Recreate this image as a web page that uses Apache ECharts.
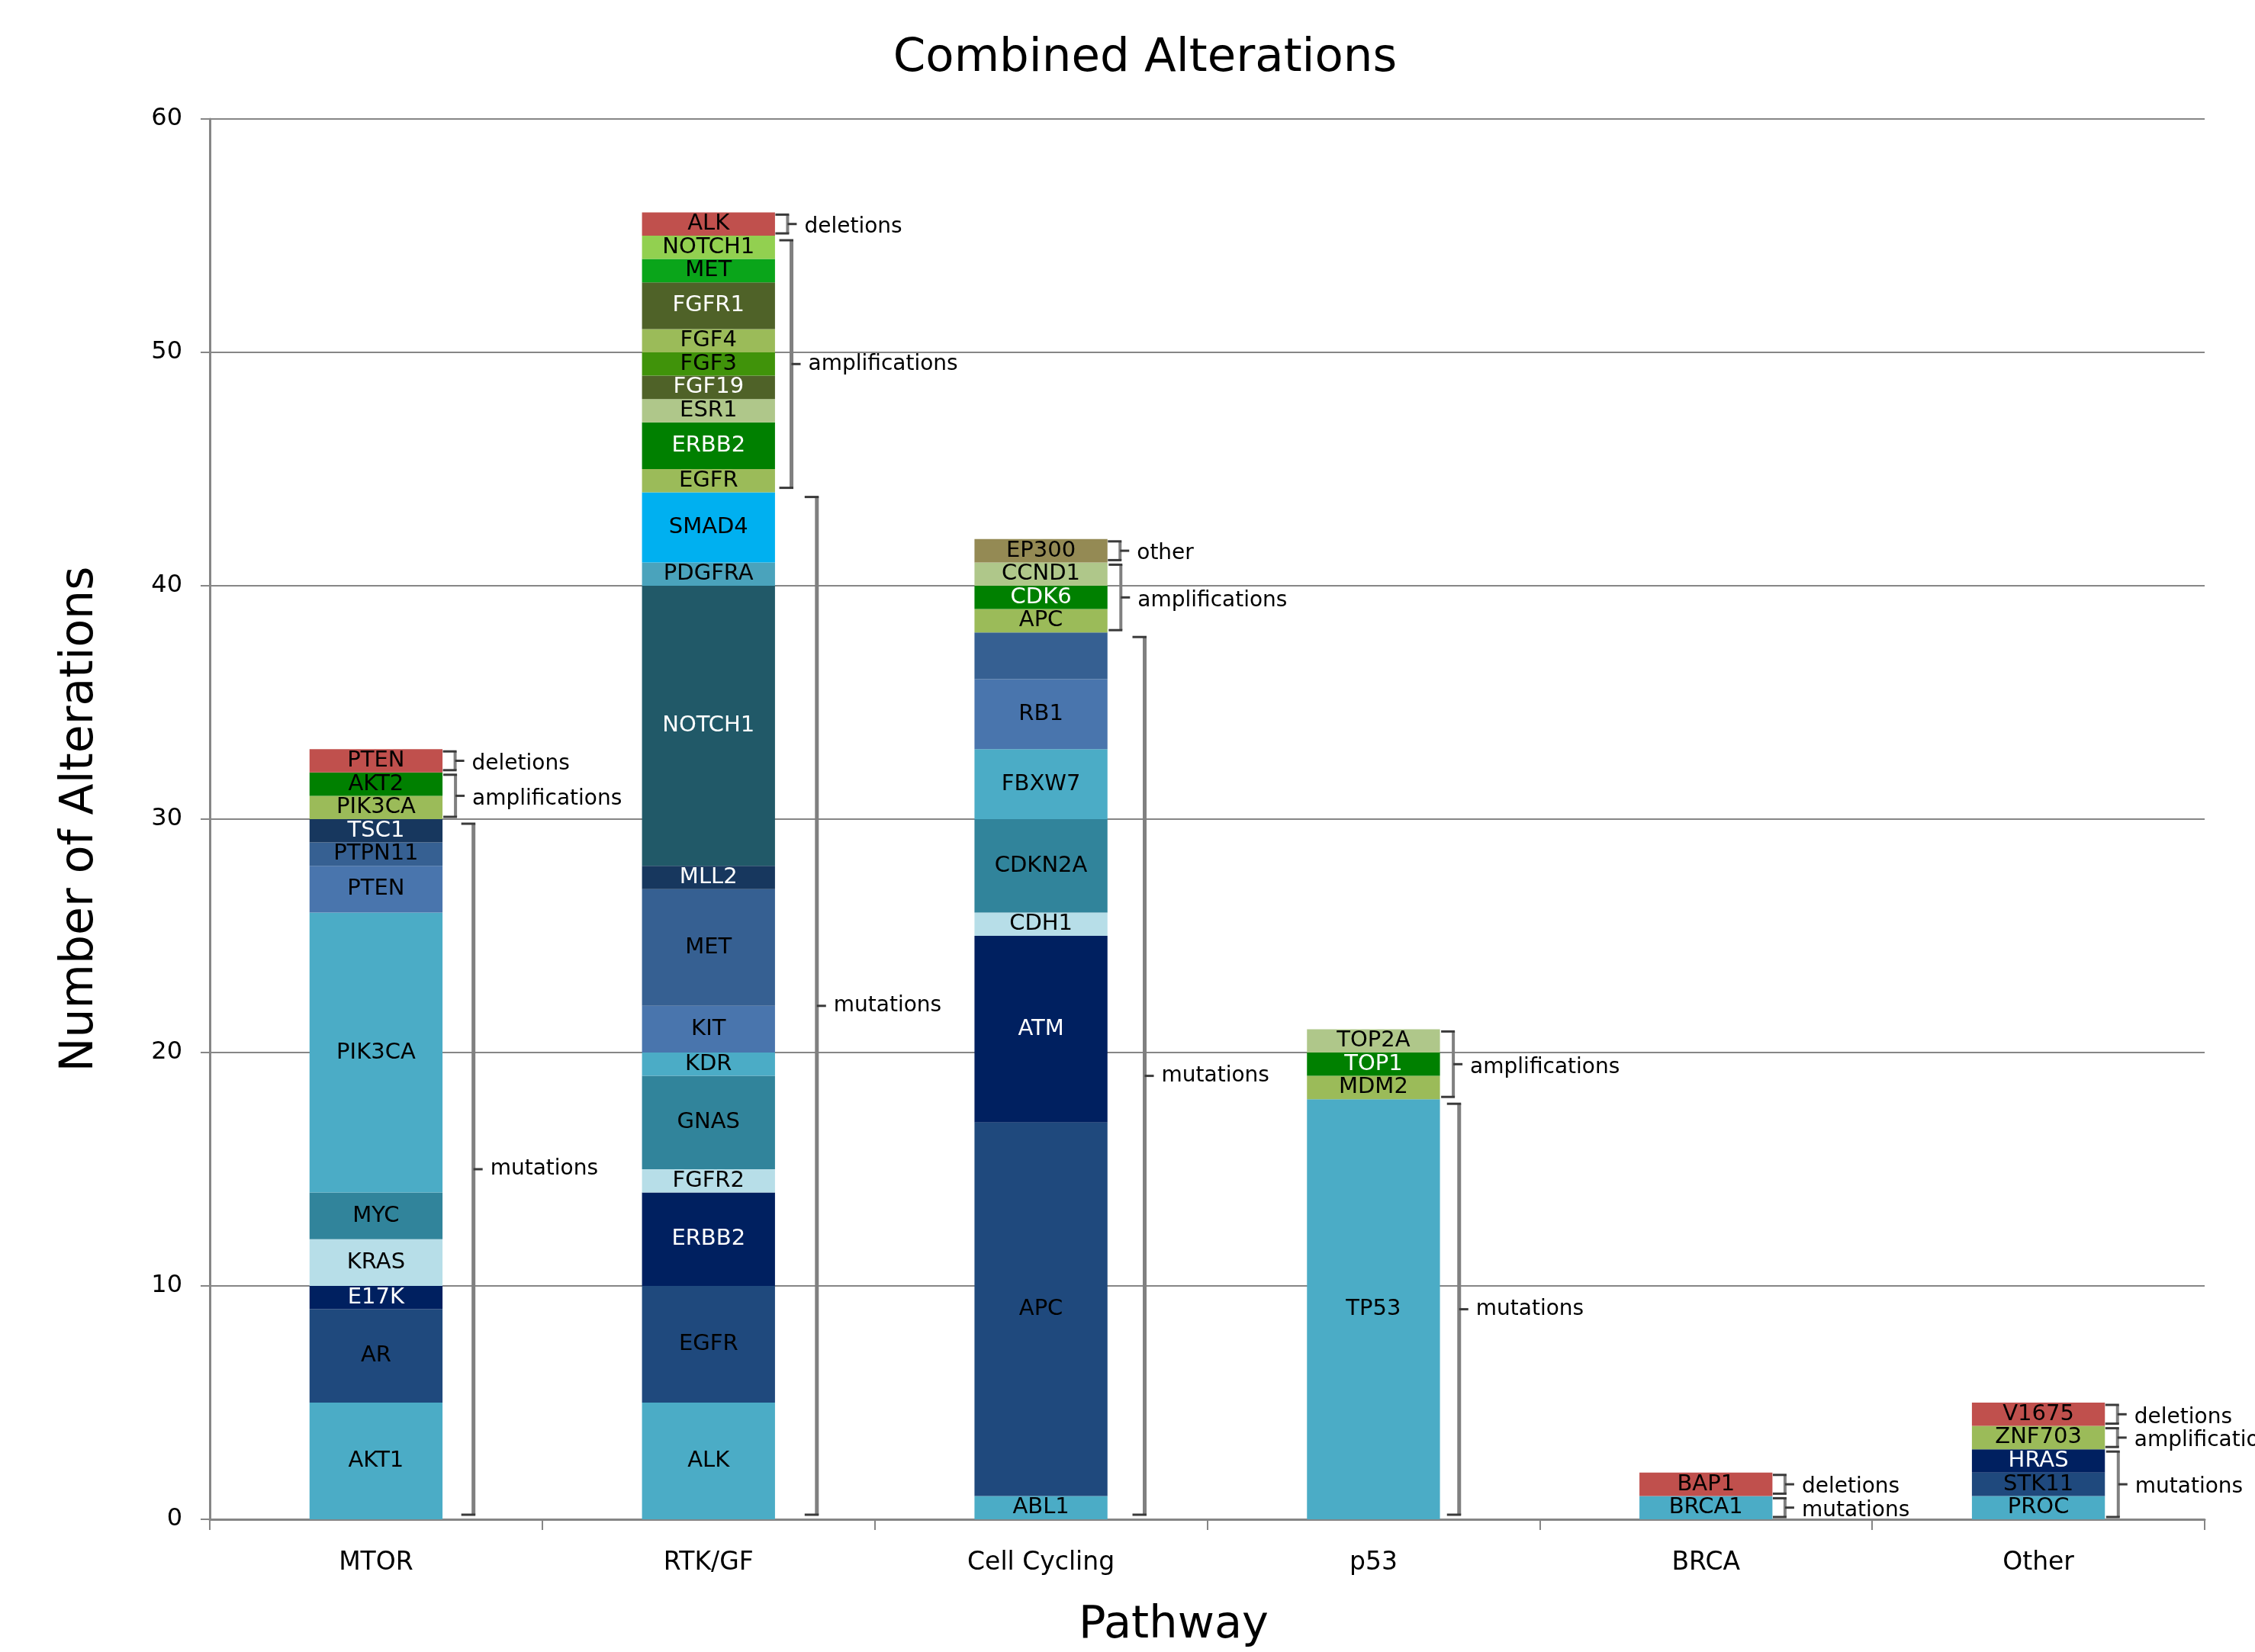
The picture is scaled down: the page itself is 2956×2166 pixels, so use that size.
<!DOCTYPE html>
<html>
<head>
<meta charset="utf-8">
<title>Combined Alterations</title>
<script src="https://cdn.jsdelivr.net/npm/echarts@6/dist/echarts.min.js"></script>
<style>
  html, body { margin: 0; padding: 0; background: #ffffff; }
  #chart { width: 2956px; height: 2166px; }
</style>
</head>
<body>
<div id="chart"></div>
<script>
// ---- data: pathways, genes (stacked bottom to top) and alteration counts ----
const categories = ['MTOR', 'RTK/GF', 'Cell Cycling', 'p53', 'BRCA', 'Other'];
const yTicks = [0, 10, 20, 30, 40, 50, 60];

const mtorGenes  = ['AKT1', 'AR', 'E17K', 'KRAS', 'MYC', 'PIK3CA', 'PTEN', 'PTPN11', 'TSC1', 'PIK3CA', 'AKT2', 'PTEN'];
const mtorCounts = [5, 4, 1, 2, 2, 12, 2, 1, 1, 1, 1, 1];
const mtorGroups = [['mutations', 9], ['amplifications', 2], ['deletions', 1]];

const rtkGenes  = ['ALK', 'EGFR', 'ERBB2', 'FGFR2', 'GNAS', 'KDR', 'KIT', 'MET', 'MLL2', 'NOTCH1', 'PDGFRA', 'SMAD4',
                   'EGFR', 'ERBB2', 'ESR1', 'FGF19', 'FGF3', 'FGF4', 'FGFR1', 'MET', 'NOTCH1', 'ALK'];
const rtkCounts = [5, 5, 4, 1, 4, 1, 2, 5, 1, 12, 1, 3,
                   1, 2, 1, 1, 1, 1, 2, 1, 1, 1];
const rtkGroups = [['mutations', 12], ['amplifications', 9], ['deletions', 1]];

const cellGenes  = ['ABL1', 'APC', 'ATM', 'CDH1', 'CDKN2A', 'FBXW7', 'RB1', '', 'APC', 'CDK6', 'CCND1', 'EP300'];
const cellCounts = [1, 16, 8, 1, 4, 3, 3, 2, 1, 1, 1, 1];
const cellGroups = [['mutations', 8], ['amplifications', 3], ['other', 1]];

const p53Genes  = ['TP53', 'MDM2', 'TOP1', 'TOP2A'];
const p53Counts = [18, 1, 1, 1];
const p53Groups = [['mutations', 1], ['amplifications', 3]];

const brcaGenes  = ['BRCA1', 'BAP1'];
const brcaCounts = [1, 1];
const brcaGroups = [['mutations', 1], ['deletions', 1]];

const otherGenes  = ['PROC', 'STK11', 'HRAS', 'ZNF703', 'V1675'];
const otherCounts = [1, 1, 1, 1, 1];
const otherGroups = [['mutations', 3], ['amplifications', 1], ['deletions', 1]];

// ---- styles: segment fills and which labels are drawn in white ----
const C = {
  cyan: '#4BACC6', navy: '#1F497D', ink: '#002060', pale: '#B7DEE8', teal: '#31849B',
  steel: '#4975AD', slate: '#366092', deep: '#17375E', pine: '#215968', sky: '#00B0F0',
  pdg: '#4AA3BC', olive: '#9BBB59', green: '#008000', sage: '#AFC78A', moss: '#4F6228',
  fgf3: '#40930A', met: '#0AA51A', lime: '#92D050', red: '#C0504D', khaki: '#948A54'
};
const mtorColors  = [C.cyan, C.navy, C.ink, C.pale, C.teal, C.cyan, C.steel, C.slate, C.deep, C.olive, C.green, C.red];
const mtorWhite   = [2, 8];
const rtkColors   = [C.cyan, C.navy, C.ink, C.pale, C.teal, C.cyan, C.steel, C.slate, C.deep, C.pine, C.pdg, C.sky,
                     C.olive, C.green, C.sage, C.moss, C.fgf3, C.olive, C.moss, C.met, C.lime, C.red];
const rtkWhite    = [2, 8, 9, 13, 15, 18];
const cellColors  = [C.cyan, C.navy, C.ink, C.pale, C.teal, C.cyan, C.steel, C.slate, C.olive, C.green, C.sage, C.khaki];
const cellWhite   = [2, 9];
const p53Colors   = [C.cyan, C.olive, C.green, C.sage];
const p53White    = [2];
const brcaColors  = [C.cyan, C.red];
const brcaWhite   = [];
const otherColors = [C.cyan, C.navy, C.ink, C.olive, C.red];
const otherWhite  = [2];

const pathways = [
  { genes: mtorGenes,  counts: mtorCounts,  groups: mtorGroups,  colors: mtorColors,  white: mtorWhite },
  { genes: rtkGenes,   counts: rtkCounts,   groups: rtkGroups,   colors: rtkColors,   white: rtkWhite },
  { genes: cellGenes,  counts: cellCounts,  groups: cellGroups,  colors: cellColors,  white: cellWhite },
  { genes: p53Genes,   counts: p53Counts,   groups: p53Groups,   colors: p53Colors,   white: p53White },
  { genes: brcaGenes,  counts: brcaCounts,  groups: brcaGroups,  colors: brcaColors,  white: brcaWhite },
  { genes: otherGenes, counts: otherCounts, groups: otherGroups, colors: otherColors, white: otherWhite }
];

const FONT = 'DejaVu Sans';

// one stacked bar series per gene segment
const series = [];
// brace annotations: [category, from, to] with the alteration type
const braces = [];

pathways.forEach((p, ci) => {
  p.genes.forEach((gene, i) => {
    series.push({
      type: 'bar',
      stack: 'total',
      barWidth: '40%',
      data: categories.map((_, j) => (j === ci ? p.counts[i] : '-')),
      itemStyle: { color: p.colors[i] },
      label: {
        show: gene !== '',
        position: 'inside',
        formatter: gene,
        color: p.white.includes(i) ? '#ffffff' : '#000000',
        fontSize: 29,
        fontFamily: FONT
      },
      emphasis: { disabled: true },
      silent: true
    });
  });
  let seg = 0, base = 0;
  p.groups.forEach(([kind, n]) => {
    let span = 0;
    for (let k = 0; k < n; k++) span += p.counts[seg + k];
    braces.push({ value: [ci, base, base + span], kind: kind });
    seg += n;
    base += span;
  });
});

function renderBrace(params, api) {
  const cat = api.value(0);
  const lo = api.coord([cat, api.value(1)]);
  const hi = api.coord([cat, api.value(2)]);
  const band = api.size([1, 0])[0];
  const barRight = lo[0] + band * 0.2;
  const spanPx = lo[1] - hi[1];
  const off = spanPx > 700 ? 10 + spanPx / 30 : 16 + spanPx / 60;
  const bx = barRight + off;
  const inset = spanPx > 100 ? 6 : 3;
  const y1 = hi[1] + inset, y2 = lo[1] - inset, ym = (lo[1] + hi[1]) / 2;
  const lw = spanPx > 200 ? 5 : 4;
  const grey = { stroke: '#808080', lineWidth: lw };
  const dark = { stroke: '#3a3a3a', lineWidth: 3 };
  return {
    type: 'group',
    children: [
      { type: 'line', shape: { x1: bx, y1: y1, x2: bx, y2: y2 }, style: grey },
      { type: 'line', shape: { x1: bx - 16, y1: y1, x2: bx + lw / 2, y2: y1 }, style: dark },
      { type: 'line', shape: { x1: bx - 16, y1: y2, x2: bx + lw / 2, y2: y2 }, style: dark },
      { type: 'line', shape: { x1: bx, y1: ym, x2: bx + 12, y2: ym }, style: dark },
      {
        type: 'text',
        x: bx + 22, y: ym + (spanPx < 100 ? 4 : 0),
        style: {
          text: braces[params.dataIndex].kind,
          fill: '#000000', fontSize: 28, fontFamily: FONT,
          align: 'left', verticalAlign: 'middle'
        }
      }
    ]
  };
}

series.push({
  type: 'custom',
  renderItem: renderBrace,
  data: braces.map(b => b.value),
  encode: { x: 0, y: [1, 2] },
  clip: false,
  silent: true,
  z: 5
});

const chart = echarts.init(document.getElementById('chart'), null, { renderer: 'canvas' });
chart.setOption({
  animation: false,
  backgroundColor: '#ffffff',
  title: {
    text: 'Combined Alterations',
    left: 1496,
    textAlign: 'center',
    top: 42,
    textStyle: { fontSize: 61, fontWeight: 'normal', fontFamily: FONT, color: '#000000' }
  },
  grid: { left: 275, right: 66, top: 156, bottom: 173, containLabel: false },
  xAxis: {
    type: 'category',
    data: categories,
    name: 'Pathway',
    nameLocation: 'middle',
    nameGap: 110,
    nameTextStyle: { fontSize: 59, fontFamily: FONT, color: '#000000', padding: [0, 88, 0, 0] },
    axisLine: { lineStyle: { color: '#868686', width: 3 } },
    axisTick: { show: true, length: 14, lineStyle: { color: '#868686', width: 2 } },
    axisLabel: { fontSize: 33, fontFamily: FONT, color: '#000000', margin: 41 }
  },
  yAxis: {
    type: 'value',
    min: yTicks[0],
    max: yTicks[yTicks.length - 1],
    interval: yTicks[1] - yTicks[0],
    name: 'Number of Alterations',
    nameLocation: 'middle',
    nameGap: 140,
    nameTextStyle: { fontSize: 60, fontFamily: FONT, color: '#000000' },
    axisLine: { show: true, lineStyle: { color: '#868686', width: 3 } },
    axisTick: { show: true, length: 12, lineStyle: { color: '#868686', width: 2 } },
    axisLabel: { fontSize: 32, fontFamily: FONT, color: '#000000', margin: 36 },
    splitLine: { show: true, lineStyle: { color: '#868686', width: 2 } }
  },
  series: series
});
</script>
</body>
</html>
